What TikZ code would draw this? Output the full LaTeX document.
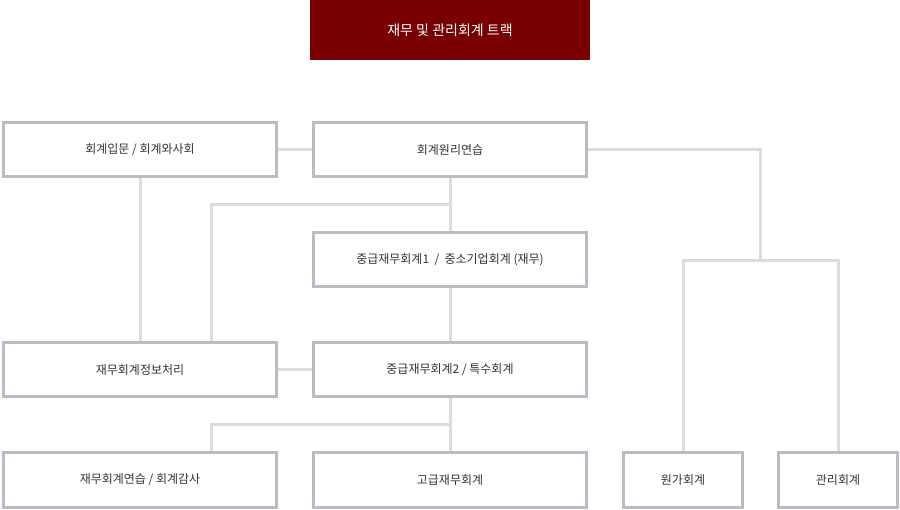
\documentclass[tikz,border=0pt]{standalone}
\usepackage{fontspec}
\setmainfont{Noto Sans CJK KR}
\definecolor{title}{HTML}{780000}
\definecolor{bord}{HTML}{B9BCC4}
\definecolor{conn}{HTML}{DCDCDE}
\begin{document}
\begin{tikzpicture}[x=1pt,y=-1pt,
  box/.style={draw=bord,line width=3pt,fill=white,font=\fontsize{12}{14}\selectfont,text=black!80,inner sep=0pt,minimum height=54pt},
  wide/.style={box,minimum width=273pt},
  narrow/.style={box,minimum width=119pt},
  ln/.style={draw=conn,line width=3pt}]
\useasboundingbox (0,0) rectangle (900,510);
\fill[title] (310,0) rectangle (590,60);
\node[text=white,font=\fontsize{14}{16}\selectfont] (t) at (450,30) {재무 및 관리회계 트랙};
% connectors first
\coordinate (b1) at (450,205);
\coordinate (b2) at (211,205);
\coordinate (e1) at (450,425);
\coordinate (e2) at (211,425);
\coordinate (r1) at (760,150);
\coordinate (r2) at (760,261);
\coordinate (r3) at (683,261);
\coordinate (r4) at (838,261);
\node[wide] (A) at (140,150) {회계입문 / 회계와사회};
\node[wide] (B) at (450,150) {회계원리연습};
\node[wide] (C) at (450,260) {중급재무회계1 \ / \ 중소기업회계 (재무)};
\node[wide] (D) at (140,370) {재무회계정보처리};
\node[wide] (E) at (450,370) {중급재무회계2 / 특수회계};
\node[wide] (F) at (140,480) {재무회계연습 / 회계감사};
\node[wide] (G) at (450,480) {고급재무회계};
\node[narrow] (H) at (683,480) {원가회계};
\node[narrow] (I) at (838,480) {관리회계};
\begin{scope}[on background layer/.try]
\end{scope}
\path[ln] (A.east) -- (B.west);
\path[ln] (A.south) -- (D.north);
\path[ln] (B.south) -- (C.north);
\path[ln] (b1) -- (b2) -- (b2 |- D.north);
\path[ln] (C.south) -- (E.north);
\path[ln] (D.east) -- (E.west);
\path[ln] (E.south) -- (G.north);
\path[ln] (e1) -- (e2) -- (e2 |- F.north);
\path[ln] (B.east) -- (r1) -- (r2);
\path[ln] (H.north) -- (r3) -- (r4) -- (I.north);
\end{tikzpicture}
\end{document}
